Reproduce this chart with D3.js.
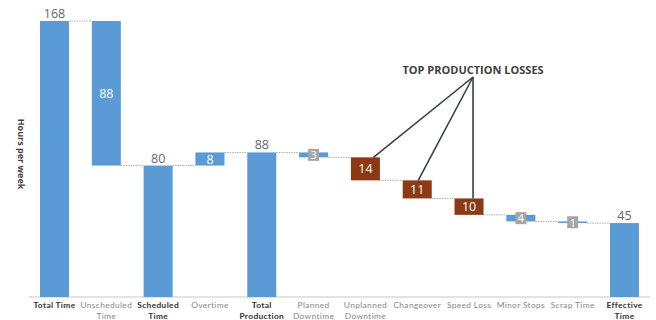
<!DOCTYPE html>
<html><head><meta charset="utf-8">
<script src="https://cdn.jsdelivr.net/npm/d3@7"></script>
<style>html,body{margin:0;padding:0;background:#fff;}svg{display:block;font-family:"Open Sans",Lato,sans-serif;}</style>
</head><body><svg id="c" width="656" height="320"></svg>
<script>
const categories = ["Total Time","Unscheduled Time","Scheduled Time","Overtime","Total Production","Planned Downtime","Unplanned Downtime","Changeover","Speed Loss","Minor Stops","Scrap Time","Effective Time"];
const labelLines = [["Total Time"],["Unscheduled","Time"],["Scheduled","Time"],["Overtime"],["Total","Production"],["Planned","Downtime"],["Unplanned","Downtime"],["Changeover"],["Speed Loss"],["Minor Stops"],["Scrap Time"],["Effective","Time"]];
const values = [168, -88, 80, 8, 88, -3, -14, -11, -10, -4, -1, 45];
const kinds = ["total","step","total","step","total","small","loss","loss","loss","small","small","total"];
const topLosses = ["Unplanned Downtime","Changeover","Speed Loss"];

const svg = d3.select("#c");
const x = d3.scaleBand().domain(categories).range([28.6, 650.4]).paddingInner(0.44).paddingOuter(0.22);
const y = d3.scaleLinear().domain([0,168]).range([297,21]);
const blue = "#5B9BD5", brown = "#8B3A14", grey = "#A6A6A6";

let run = 0;
const bars = categories.map((c,i)=>{
  const v = values[i];
  let y0, y1;
  if (kinds[i]==="total"){ y0=0; y1=v; run=v; }
  else { y0=run; y1=run+v; run=y1; }
  return {c, v, y0, y1, kind:kinds[i], end:run};
});

svg.append("line").attr("x1",29).attr("x2",650).attr("y1",y(0)).attr("y2",y(0)).attr("stroke","#c8c8c8").attr("stroke-width",1.2);

bars.forEach((b,i)=>{
  if(i===bars.length-1) return;
  const lvl = b.end;
  svg.append("line").attr("x1",x(b.c)+x.bandwidth()).attr("x2",x(categories[i+1]))
    .attr("y1",y(lvl)).attr("y2",y(lvl)).attr("stroke","#aaa").attr("stroke-width",1).attr("stroke-dasharray","1.5,1");
});

svg.selectAll("rect.bar").data(bars).enter().append("rect")
  .attr("x",d=>x(d.c)).attr("width",x.bandwidth())
  .attr("y",d=>y(Math.max(d.y0,d.y1))).attr("height",d=>Math.abs(y(d.y0)-y(d.y1)))
  .attr("fill",d=>d.kind==="loss"?brown:blue);

bars.forEach(b=>{
  const cx = x(b.c)+x.bandwidth()/2;
  const lab = Math.abs(b.v);
  if(b.kind==="total"){
    svg.append("text").attr("x",cx).attr("y",y(b.y1)-3).attr("text-anchor","middle")
      .attr("font-size",12.5).attr("fill","#666").text(lab);
  } else if(b.kind==="small"){
    const cy = (y(b.y0)+y(b.y1))/2;
    svg.append("rect").attr("x",cx-5.5).attr("y",cy-6).attr("width",11).attr("height",12).attr("fill",grey);
    svg.append("text").attr("x",cx).attr("y",cy+4.3).attr("text-anchor","middle")
      .attr("font-size",11.5).attr("fill","#fff").text(lab);
  } else {
    const cy = (y(b.y0)+y(b.y1))/2;
    svg.append("text").attr("x",cx).attr("y",cy+4.5).attr("text-anchor","middle")
      .attr("font-size",12.5).attr("fill","#fff").text(lab);
  }
});

categories.forEach((c,i)=>{
  labelLines[i].forEach((l,j)=>{
    svg.append("text").attr("x",x(c)+x.bandwidth()/2).attr("y",j?318.5:308.3).attr("text-anchor","middle")
      .style("font-family","Lato, sans-serif")
      .attr("font-size",8.4).attr("letter-spacing",0.35)
      .attr("font-weight",kinds[i]==="total"?"bold":"normal")
      .attr("fill",kinds[i]==="total"?"#333":"#888").text(l);
  });
});

svg.append("text").attr("transform","translate(18,154) rotate(90)").attr("text-anchor","middle")
  .attr("font-size",9).attr("font-weight","bold").attr("fill","#444").text("Hours per week");

const apexX = x("Speed Loss")+x.bandwidth()/2+4, apexY = 77;
svg.append("text").attr("x",apexX).attr("y",74).attr("text-anchor","middle")
  .attr("font-size",11).attr("font-weight","bold").attr("fill","#404040").text("TOP PRODUCTION LOSSES");
const offs = [8,1,4];
topLosses.forEach((c,k)=>{
  const b = bars[categories.indexOf(c)];
  svg.append("line").attr("x1",apexX).attr("y1",apexY)
    .attr("x2",x(c)+x.bandwidth()/2+offs[k]).attr("y2",y(b.y0))
    .attr("stroke","#3a3f44").attr("stroke-width",1.6);
});
</script></body></html>
